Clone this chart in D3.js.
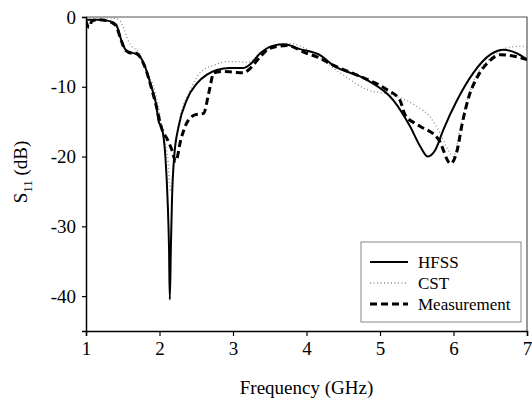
<!DOCTYPE html>
<html>
<head>
<meta charset="utf-8">
<script src="https://cdn.jsdelivr.net/npm/d3@7"></script>
<style>
  html, body { margin: 0; padding: 0; background: #fff; }
  svg text { font-family: "Liberation Serif", "Times New Roman", "DejaVu Serif", serif !important; }
</style>
</head>
<body>
<div id="chart"></div>
<script>
const width = 532;
const height = 399;
const margin = { top: 17, right: 5, bottom: 68, left: 86 };

const xTicks = [1, 2, 3, 4, 5, 6, 7];
const yTicks = [0, -10, -20, -30, -40];
const seriesNames = ["HFSS", "CST", "Measurement"];

const hfssFreq = [1.0, 1.15, 1.27, 1.35, 1.41, 1.48, 1.54, 1.62, 1.68, 1.75, 1.82, 1.88, 1.95, 1.99, 2.03, 2.08, 2.11, 2.13, 2.14, 2.155, 2.17, 2.2, 2.26, 2.37, 2.51, 2.64, 2.78, 2.96, 3.14, 3.23, 3.37, 3.55, 3.7, 3.91, 4.19, 4.36, 4.82, 5.18, 5.41, 5.55, 5.65, 5.75, 5.86, 6.05, 6.27, 6.5, 6.68, 6.86, 7.0];
const hfssS11 = [-0.4, -0.4, -0.5, -0.7, -1.1, -3.3, -4.7, -5.1, -5.3, -5.9, -7.6, -9.7, -12.3, -15.0, -15.8, -20.0, -26.2, -33.4, -40.5, -33.0, -26.2, -20.0, -15.7, -11.9, -9.5, -8.3, -7.6, -7.3, -7.3, -6.8, -5.2, -4.1, -3.9, -4.6, -5.5, -6.9, -9.0, -11.9, -15.7, -18.6, -20.0, -19.1, -16.2, -11.9, -8.0, -5.4, -4.7, -5.2, -6.1];

const cstFreq = [1.0, 1.2, 1.4, 1.45, 1.52, 1.57, 1.63, 1.7, 1.84, 1.91, 1.98, 2.02, 2.08, 2.11, 2.15, 2.19, 2.25, 2.33, 2.42, 2.55, 2.74, 2.92, 3.05, 3.2, 3.37, 3.6, 3.78, 4.0, 4.2, 4.46, 4.82, 5.18, 5.5, 5.68, 5.82, 5.93, 6.0, 6.1, 6.2, 6.32, 6.47, 6.62, 6.77, 6.95, 7.0];
const cstS11 = [-0.1, -0.1, -0.2, -0.4, -1.8, -3.3, -4.3, -4.8, -8.3, -9.7, -12.6, -15.0, -18.0, -20.0, -25.0, -21.0, -16.0, -12.5, -10.4, -8.0, -6.9, -6.4, -6.4, -6.5, -5.4, -4.0, -3.8, -4.6, -6.0, -8.0, -10.4, -11.2, -12.8, -14.3, -16.7, -19.1, -20.0, -15.5, -11.4, -8.2, -6.2, -5.0, -4.3, -4.2, -4.3];

const measFreq = [1.0, 1.02, 1.04, 1.08, 1.15, 1.27, 1.35, 1.41, 1.48, 1.54, 1.62, 1.68, 1.75, 1.82, 1.88, 1.95, 2.03, 2.11, 2.17, 2.22, 2.29, 2.37, 2.49, 2.6, 2.67, 2.74, 2.87, 3.0, 3.14, 3.21, 3.37, 3.5, 3.73, 4.0, 4.14, 4.36, 4.73, 5.09, 5.27, 5.34, 5.47, 5.55, 5.8, 5.96, 6.05, 6.12, 6.21, 6.33, 6.48, 6.64, 6.86, 7.0];
const measS11 = [-0.6, -1.2, -1.5, -0.6, -0.4, -0.5, -0.8, -1.3, -3.4, -4.8, -5.2, -5.2, -6.0, -7.7, -9.8, -12.5, -16.0, -17.6, -19.1, -20.7, -17.6, -15.2, -14.0, -13.8, -10.9, -8.0, -7.8, -7.9, -8.0, -7.6, -5.7, -4.5, -4.1, -5.2, -5.7, -6.9, -8.5, -10.4, -11.9, -14.0, -15.2, -15.7, -17.6, -21.0, -19.1, -15.2, -11.4, -8.5, -6.4, -5.4, -5.7, -6.1];

const series = [
  { name: seriesNames[0], freq: hfssFreq, s11: hfssS11, stroke: "#000", width: 2, dash: null },
  { name: seriesNames[1], freq: cstFreq, s11: cstS11, stroke: "#8a8a8a", width: 1.3, dash: "1,2.5" },
  { name: seriesNames[2], freq: measFreq, s11: measS11, stroke: "#000", width: 3, dash: "7,4" },
];

const svg = d3.select("#chart")
  .append("svg")
  .attr("width", width)
  .attr("height", height)
  .style("display", "block");

const x = d3.scaleLinear().domain([1, 7]).range([margin.left, width - margin.right]);
const y = d3.scaleLinear().domain([-45, 0]).range([height - margin.bottom, margin.top]);

svg.append("clipPath").attr("id", "plot")
  .append("rect")
  .attr("x", x(1)).attr("y", y(0))
  .attr("width", x(7) - x(1)).attr("height", y(-45) - y(0));

// frame (top and right)
svg.append("path")
  .attr("d", `M${x(1)},${y(0)}H${x(7)}V${y(-45)}`)
  .attr("fill", "none")
  .attr("stroke", "#555")
  .attr("stroke-width", 1.2);

const line = d3.line()
  .x((d) => x(d[0]))
  .y((d) => y(d[1]))
  .curve(d3.curveMonotoneX);

// draw CST first so the solid and dashed lines sit on top
[series[1], series[0], series[2]].forEach((s) => {
  svg.append("path")
    .datum(s.freq.map((f, i) => [f, s.s11[i]]))
    .attr("clip-path", "url(#plot)")
    .attr("fill", "none")
    .attr("stroke", s.stroke)
    .attr("stroke-width", s.width)
    .attr("stroke-dasharray", s.dash)
    .attr("stroke-linejoin", "round")
    .attr("d", line);
});

const xAxis = svg.append("g")
  .attr("transform", `translate(0,${y(-45)})`)
  .call(d3.axisBottom(x).tickValues(xTicks).tickSize(5).tickPadding(6).tickFormat(d3.format("d")));

const yAxis = svg.append("g")
  .attr("transform", `translate(${x(1)},0)`)
  .call(d3.axisLeft(y).tickValues(yTicks).tickSize(4).tickPadding(6).tickFormat((d) => d === 0 ? "0" : "-" + Math.abs(d)));

[xAxis, yAxis].forEach((g) => {
  g.attr("font-family", null);
  g.select(".domain").attr("stroke", "#000").attr("stroke-width", 1.5);
  g.selectAll(".tick line").attr("stroke", "#000").attr("stroke-width", 1.2);
  g.selectAll(".tick text")
    .attr("font-size", 19)
    .attr("fill", "#000");
});

svg.append("text")
  .attr("x", (x(1) + x(7)) / 2)
  .attr("y", 394)
  .attr("text-anchor", "middle")
  .attr("font-size", 19)
  .text("Frequency (GHz)");

const yLabel = svg.append("text")
  .attr("transform", "translate(27,172) rotate(-90)")
  .attr("text-anchor", "middle")
  .attr("font-size", 19);
yLabel.append("tspan").text("S");
yLabel.append("tspan").attr("font-size", 13).attr("dy", 5).text("11");
yLabel.append("tspan").attr("dy", -5).text(" (dB)");

// legend
const legend = svg.append("g").attr("transform", "translate(361,242)");
legend.append("rect")
  .attr("width", 160).attr("height", 80)
  .attr("fill", "#fff")
  .attr("stroke", "#888")
  .attr("stroke-width", 1);

series.forEach((s, i) => {
  const ly = 20 + i * 21;
  legend.append("line")
    .attr("x1", 9).attr("x2", 47)
    .attr("y1", ly).attr("y2", ly)
    .attr("stroke", s.stroke)
    .attr("stroke-width", s.width)
    .attr("stroke-dasharray", s.dash);
  legend.append("text")
    .attr("x", 57).attr("y", ly + 6)
    .attr("font-size", 17)
    .text(s.name);
});
</script>
</body>
</html>
